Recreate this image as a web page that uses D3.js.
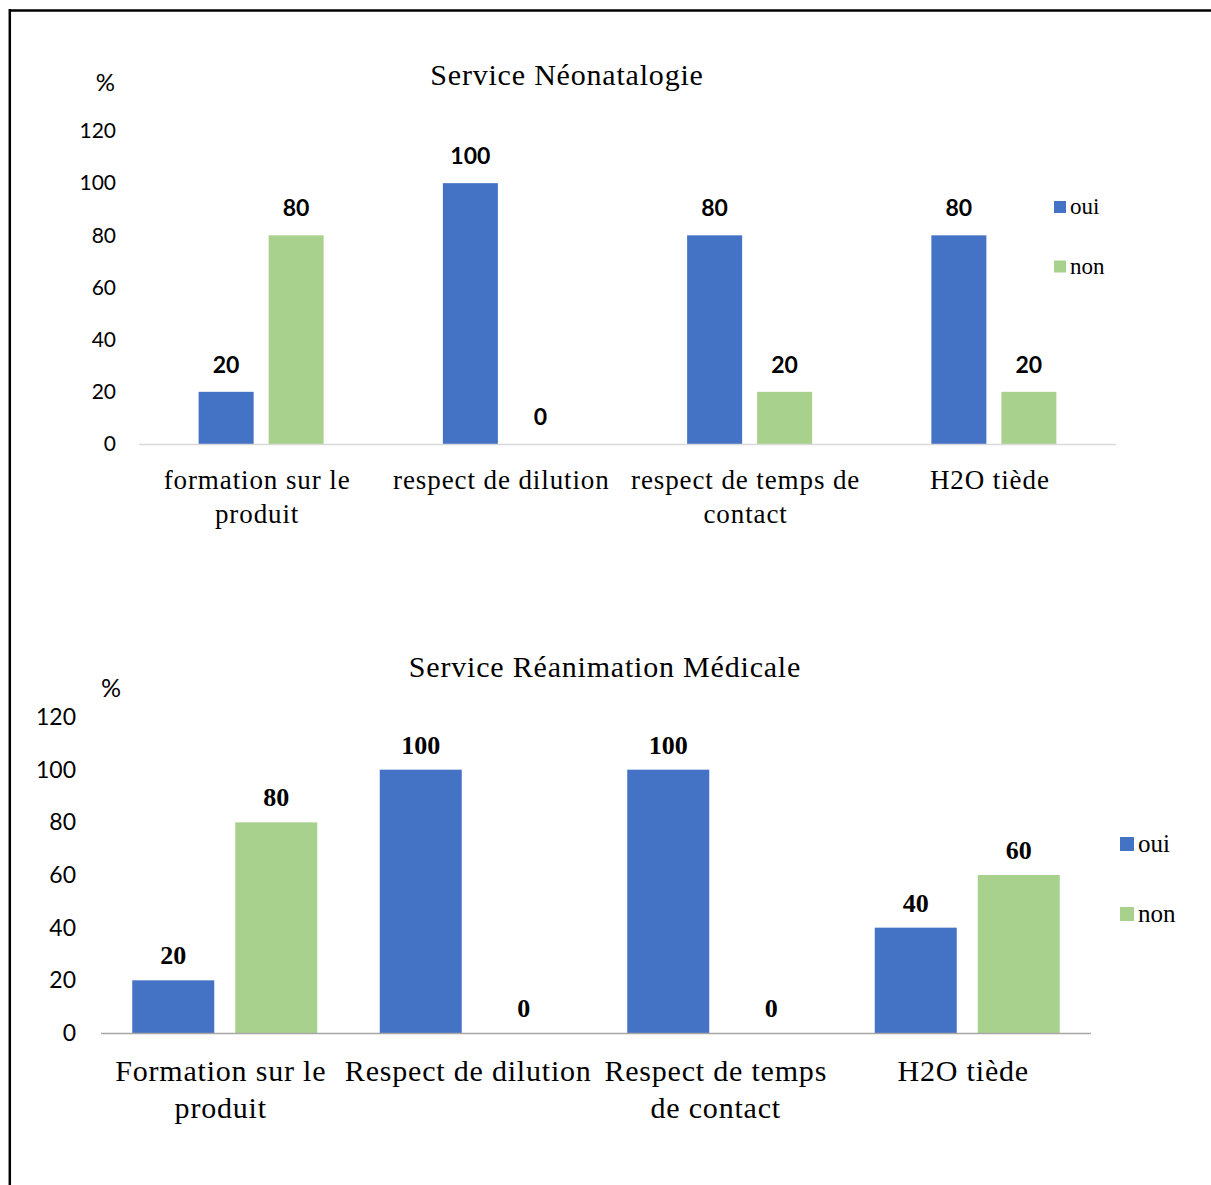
<!DOCTYPE html>
<html>
<head>
<meta charset="utf-8">
<script src="https://cdn.jsdelivr.net/npm/d3@7"></script>
<style>
  body { margin: 0; background: #fff; }
</style>
</head>
<body>
<div id="chart"></div>
<script>
// data
var series = ["oui", "non"];
var yTicks = [0, 20, 40, 60, 80, 100, 120];

var neoTitle = "Service Néonatalogie";
var neoCategories = ["formation sur le\nproduit", "respect de dilution", "respect de temps de\ncontact", "H2O tiède"];
var neoOui = [20, 100, 80, 80];
var neoNon = [80, 0, 20, 20];

var reaTitle = "Service Réanimation Médicale";
var reaCategories = ["Formation sur le\nproduit", "Respect de dilution", "Respect de temps\nde contact", "H2O tiède"];
var reaOui = [20, 100, 100, 40];
var reaNon = [80, 0, 0, 60];

var colors = { oui: "#4472C4", non: "#A9D18E" };
var serif = "'Liberation Serif', 'Times New Roman', serif";
var sans = "Lato, 'Open Sans', sans-serif";

var W = 1211, H = 1185;

var svg = d3.select("#chart").append("svg")
    .attr("width", W)
    .attr("height", H);

// frame (only top and left visible)
svg.append("line")
    .attr("x1", 9).attr("x2", W).attr("y1", 10.5).attr("y2", 10.5)
    .style("stroke", "#000").style("stroke-width", 2.5);
svg.append("line")
    .attr("x1", 9.8).attr("x2", 9.8).attr("y1", 9).attr("y2", H)
    .style("stroke", "#000").style("stroke-width", 2.5);

function drawChart(cfg) {
    var g = svg.append("g");
    var rows = cfg.categories.map(function(c, i) {
        return { cat: c, oui: cfg.oui[i], non: cfg.non[i] };
    });

    var y = d3.scaleLinear().domain([0, 120]).range([cfg.y0, cfg.y120]);
    var x0 = d3.scaleBand().domain(cfg.categories).range([cfg.xl, cfg.xr]);
    var pair = 2 * cfg.barW + cfg.gap;
    var x1 = d3.scaleBand().domain(series)
        .range([-pair / 2, pair / 2])
        .paddingInner(cfg.gap / (cfg.barW + cfg.gap));

    // title
    g.append("text")
        .attr("x", cfg.titleX).attr("y", cfg.titleY)
        .attr("text-anchor", "middle")
        .style("font-family", serif)
        .style("font-size", "30px")
        .style("letter-spacing", "0.8px")
        .text(cfg.title);

    // y axis
    var yAxis = g.append("g")
        .attr("transform", "translate(" + cfg.xl + ",0)")
        .call(d3.axisLeft(y).tickValues(yTicks).tickSize(0).tickPadding(cfg.tickPad));
    yAxis.select(".domain").remove();
    yAxis.selectAll("text")
        .style("font-family", sans)
        .style("font-size", cfg.tickSize + "px")
        .style("fill", "#000");

    g.append("text")
        .attr("x", cfg.pctX).attr("y", cfg.pctY)
        .attr("text-anchor", "end")
        .style("font-family", sans)
        .style("font-size", cfg.pctSize + "px")
        .text("%");

    // bars
    var groups = g.selectAll(".cat")
        .data(rows)
        .enter().append("g")
        .attr("transform", function(d) { return "translate(" + (x0(d.cat) + x0.bandwidth() / 2) + ",0)"; });

    groups.selectAll("rect")
        .data(function(d) { return series.map(function(s) { return { s: s, v: d[s] }; }); })
        .enter().append("rect")
        .attr("x", function(d) { return x1(d.s); })
        .attr("width", x1.bandwidth())
        .attr("y", function(d) { return y(d.v); })
        .attr("height", function(d) { return cfg.y0 - y(d.v); })
        .style("fill", function(d) { return colors[d.s]; });

    groups.selectAll(".lbl")
        .data(function(d) { return series.map(function(s) { return { s: s, v: d[s] }; }); })
        .enter().append("text")
        .attr("class", "lbl")
        .attr("x", function(d) { return x1(d.s) + x1.bandwidth() / 2; })
        .attr("y", function(d) { return y(d.v) - cfg.lblOff; })
        .attr("text-anchor", "middle")
        .style("font-family", cfg.lblFont)
        .style("font-weight", "bold")
        .style("font-size", cfg.lblSize + "px")
        .text(function(d) { return d.v; });

    // x axis line
    g.append("line")
        .attr("x1", cfg.xl).attr("x2", cfg.xr)
        .attr("y1", cfg.y0 + 0.5).attr("y2", cfg.y0 + 0.5)
        .style("stroke", cfg.axisColor)
        .style("stroke-width", 1.5);

    // category labels
    var cats = g.selectAll(".catlbl")
        .data(cfg.categories)
        .enter().append("text")
        .attr("text-anchor", "middle")
        .style("font-family", serif)
        .style("font-size", cfg.catSize + "px")
        .style("letter-spacing", cfg.catSpacing + "px");
    cats.selectAll("tspan")
        .data(function(d) {
            var cx = x0(d) + x0.bandwidth() / 2 - 4;
            return d.split("\n").map(function(t, i) { return { t: t, x: cx, i: i }; });
        })
        .enter().append("tspan")
        .attr("x", function(d) { return d.x; })
        .attr("y", function(d) { return cfg.catY + d.i * cfg.catLine; })
        .text(function(d) { return d.t; });

    // legend
    series.forEach(function(s, i) {
        var ly = cfg.legY + i * cfg.legStep;
        g.append("rect")
            .attr("x", cfg.legX).attr("y", ly)
            .attr("width", cfg.legBox).attr("height", cfg.legBox)
            .style("fill", colors[s]);
        g.append("text")
            .attr("x", cfg.legX + cfg.legBox + 4)
            .attr("y", ly + cfg.legBox + 1)
            .style("font-family", serif)
            .style("font-size", cfg.legSize + "px")
            .text(s);
    });
}

drawChart({
    title: neoTitle, categories: neoCategories, oui: neoOui, non: neoNon,
    titleX: 567, titleY: 85,
    y0: 444, y120: 131, xl: 139, xr: 1116,
    barW: 55, gap: 15,
    tickPad: 23, tickSize: 21, pctX: 115, pctY: 91, pctSize: 24,
    lblFont: sans, lblSize: 23, lblOff: 19,
    axisColor: "#d9d9d9",
    catSize: 27, catSpacing: 0.9, catY: 489, catLine: 34,
    legX: 1054, legY: 201, legStep: 59.5, legBox: 12, legSize: 23
});

drawChart({
    title: reaTitle, categories: reaCategories, oui: reaOui, non: reaNon,
    titleX: 605, titleY: 677,
    y0: 1033, y120: 717, xl: 101, xr: 1091,
    barW: 82, gap: 21,
    tickPad: 25, tickSize: 23, pctX: 121, pctY: 697, pctSize: 25,
    lblFont: serif, lblSize: 26, lblOff: 16,
    axisColor: "#a6a6a6",
    catSize: 30, catSpacing: 0.8, catY: 1081, catLine: 37,
    legX: 1120, legY: 837, legStep: 70, legBox: 14, legSize: 25
});
</script>
</body>
</html>
